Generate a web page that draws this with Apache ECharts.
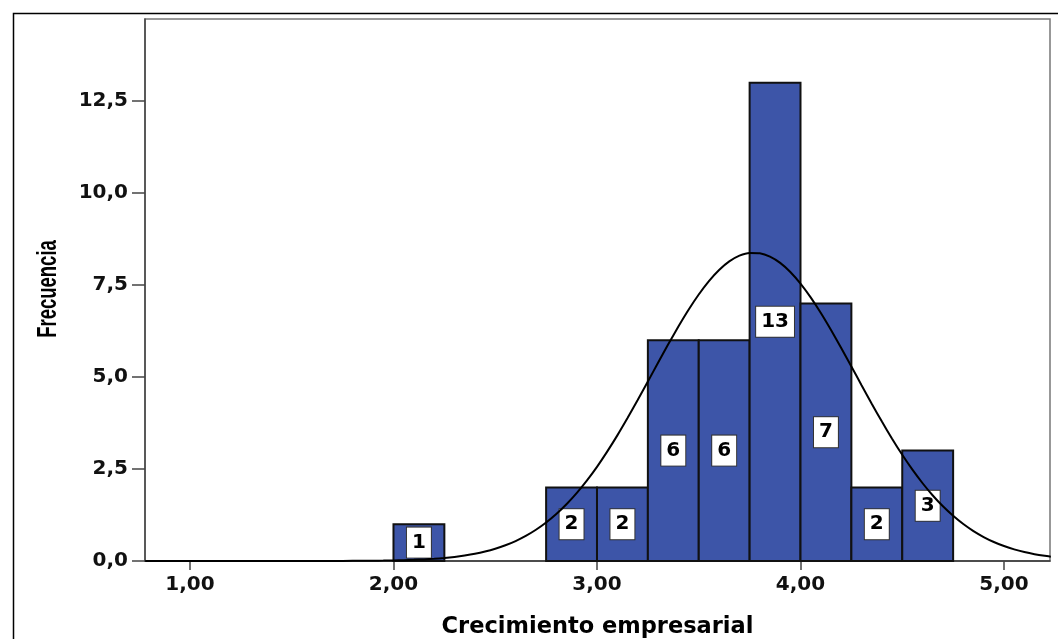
<!DOCTYPE html>
<html><head><meta charset="utf-8">
<script src="https://cdn.jsdelivr.net/npm/echarts@6/dist/echarts.min.js"></script>
<style>html,body{margin:0;padding:0;background:#fff}#c{width:1058px;height:639px}</style>
</head><body><div id="c"></div>
<script>
// Histogram bins (Crecimiento empresarial) and frequencies
const binStart = [2.00, 2.75, 3.00, 3.25, 3.50, 3.75, 4.00, 4.25, 4.50];
const binEnd   = [2.25, 3.00, 3.25, 3.50, 3.75, 4.00, 4.25, 4.50, 4.75];
const counts   = [1, 2, 2, 6, 6, 13, 7, 2, 3];

// Normal curve points
const curveX = [0.78, 1.0, 1.2, 1.4, 1.6, 1.7, 1.8, 1.85, 1.9, 1.95, 2.0, 2.05, 2.1, 2.15, 2.2, 2.25, 2.3, 2.35,
                2.4, 2.45, 2.5, 2.55, 2.6, 2.65, 2.7, 2.75, 2.8, 2.85, 2.9, 2.95, 3.0, 3.05, 3.1, 3.15,
                3.2, 3.25, 3.3, 3.35, 3.4, 3.45, 3.5, 3.55, 3.6, 3.65, 3.7, 3.75, 3.8, 3.85, 3.9, 3.95,
                4.0, 4.05, 4.1, 4.15, 4.2, 4.25, 4.3, 4.35, 4.4, 4.45, 4.5, 4.55, 4.6, 4.65, 4.7, 4.75,
                4.8, 4.85, 4.9, 4.95, 5.0, 5.05, 5.1, 5.15, 5.2, 5.23];
const curveY = [0, 0, 0, 0, 0, 0.001, 0.004, 0.005, 0.008, 0.011, 0.016, 0.023, 0.032, 0.044, 0.061, 0.082, 0.111, 0.149,
                0.196, 0.257, 0.333, 0.427, 0.542, 0.682, 0.849, 1.046, 1.276, 1.542, 1.844, 2.184, 2.559, 2.972, 3.414, 3.885,
                4.375, 4.880, 5.386, 5.889, 6.372, 6.828, 7.242, 7.607, 7.909, 8.142, 8.298, 8.373, 8.365, 8.273, 8.102, 7.855,
                7.539, 7.164, 6.740, 6.278, 5.790, 5.286, 4.778, 4.276, 3.789, 3.324, 2.886, 2.482, 2.113, 1.781, 1.486, 1.228,
                1.004, 0.813, 0.652, 0.517, 0.407, 0.316, 0.244, 0.186, 0.140, 0.118];

const xTicks = [1, 2, 3, 4, 5];
const yTicks = [0, 2.5, 5, 7.5, 10, 12.5];
const xTitle = 'Crecimiento empresarial';
const yTitle = 'Frecuencia';

const chart = echarts.init(document.getElementById('c'), null, {renderer: 'canvas'});
const barData = binStart.map((s, i) => [s, binEnd[i], counts[i]]);
const lineData = curveX.map((x, i) => [x, curveY[i]]);

chart.setOption({
  animation: false,
  backgroundColor: '#fff',
  grid: {left: 145, top: 19, right: 8, bottom: 78, show: true, borderColor: '#777', borderWidth: 1.5,
         backgroundColor: 'transparent', containLabel: false, outerBoundsMode: 'none'},
  xAxis: {
    type: 'value', min: 0.779, max: 5.226,
    name: xTitle, nameLocation: 'middle', nameGap: 55,
    nameTextStyle: {fontFamily: 'DejaVu Sans', fontWeight: 'bold', fontSize: 22.5, color: '#000'},
    axisLine: {onZero: false, lineStyle: {color: '#333', width: 1.5}},
    axisTick: {customValues: xTicks, length: 9, lineStyle: {color: '#444', width: 1.5}},
    axisLabel: {customValues: xTicks, margin: 14, fontFamily: 'DejaVu Sans', fontWeight: 'bold', fontSize: 20, color: '#111',
                formatter: v => v.toFixed(2).replace('.', ',')},
    splitLine: {show: false}
  },
  yAxis: {
    type: 'value', min: 0, max: 14.73,
    axisLine: {show: true, lineStyle: {color: '#444', width: 1.5}},
    axisTick: {show: true, customValues: yTicks, length: 13, lineStyle: {color: '#444', width: 1.5}},
    axisLabel: {customValues: yTicks, margin: 17, fontFamily: 'DejaVu Sans', fontWeight: 'bold', fontSize: 20, color: '#111',
                formatter: v => v.toFixed(1).replace('.', ',')},
    splitLine: {show: false}
  },
  graphic: [
    {type: 'rect', silent: true, shape: {x: 13.5, y: 13.5, width: 1100, height: 700},
     style: {fill: 'none', stroke: '#000', lineWidth: 1.5}, z: 0},
    {type: 'text', x: 48, y: 289, rotation: Math.PI / 2, scaleY: 1.5,
     style: {text: yTitle, font: 'bold 18.5px "Liberation Sans"', align: 'center', verticalAlign: 'middle', fill: '#000'}}
  ],
  series: [
    {
      type: 'custom', z: 2,
      data: barData,
      encode: {x: [0, 1], y: 2},
      renderItem: function (params, api) {
        const x0 = api.value(0), x1 = api.value(1), c = api.value(2);
        const p0 = api.coord([x0, c]);
        const p1 = api.coord([x1, 0]);
        return {
          type: 'group',
          children: [
            {type: 'rect', shape: {x: p0[0], y: p0[1], width: p1[0] - p0[0], height: p1[1] - p0[1]},
             style: {fill: '#3d55a8', stroke: '#111', lineWidth: 2}},
            {type: 'text', x: (p0[0] + p1[0]) / 2, y: (p0[1] + p1[1]) / 2,
             style: {text: String(c), align: 'center', verticalAlign: 'middle',
                     font: 'bold 20px "DejaVu Sans"', fill: '#000',
                     backgroundColor: '#fff', borderColor: '#333', borderWidth: 1, padding: [5, 5, 5, 5]}}
          ]
        };
      }
    },
    {
      type: 'line', z: 5, data: lineData, smooth: 0.2, showSymbol: false, silent: true,
      lineStyle: {color: '#000', width: 2}
    }
  ]
});
</script>
</body></html>
